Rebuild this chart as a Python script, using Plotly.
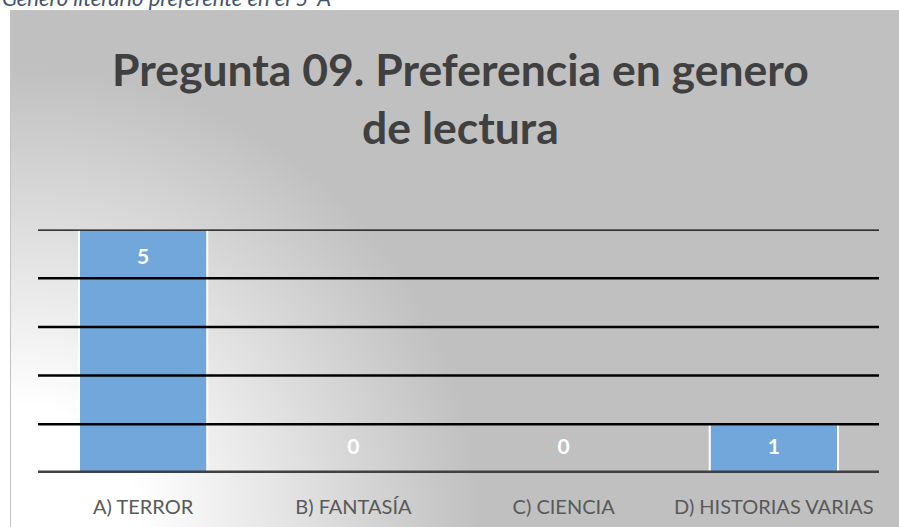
import base64
import math
import struct
import zlib

import plotly.graph_objects as go

# ---------------- data ----------------
CATEGORIES = ["A) TERROR", "B) FANTASÍA", "C) CIENCIA", "D) HISTORIAS VARIAS"]
VALUES = [5, 0, 0, 1]
Y_TICKS = [1, 2, 3, 4, 5]
TITLE_LINES = ["Pregunta 09. Preferencia en genero", "de lectura"]
CAPTION = "Genero literario preferente en el 5°A"

# ---------------- layout constants ----------------
W, H = 899, 527
FRAME_X0, FRAME_Y0 = 10, 10          # chart frame top-left (px)
PLOT_X0, PLOT_X1 = 38, 879           # plot area (px)
PLOT_Y_TOP, PLOT_Y_BOT = 229.5, 473  # plot area (px)
FONT = "Lato"
BAR_COLOR = "#71A7DB"


def gradient_png(scale=2):
    """Radial light-to-grey background of the chart frame (decoration)."""
    fw, fh = W - FRAME_X0, H - FRAME_Y0
    w, h = math.ceil(fw / scale), math.ceil(fh / scale)
    raw = bytearray()
    for j in range(h):
        raw.append(0)
        py = FRAME_Y0 + (j + 0.5) * scale
        for i in range(w):
            px = FRAME_X0 + (i + 0.5) * scale
            d = math.hypot(px - 20, py - 527)
            t = min(max((d - 120) / 340.0, 0.0), 1.0)
            raw.append(int(round(255 - 63 * t)))

    def chunk(tag, data):
        c = struct.pack(">I", len(data)) + tag + data
        return c + struct.pack(">I", zlib.crc32(tag + data) & 0xFFFFFFFF)

    png = (b"\x89PNG\r\n\x1a\n"
           + chunk(b"IHDR", struct.pack(">IIBBBBB", w, h, 8, 0, 0, 0, 0))
           + chunk(b"IDAT", zlib.compress(bytes(raw), 9))
           + chunk(b"IEND", b""))
    return "data:image/png;base64," + base64.b64encode(png).decode()


def px_x(p):
    return p / W


def px_y(p):
    return 1 - p / H


fig = go.Figure()

fig.add_trace(go.Bar(
    x=CATEGORIES,
    y=VALUES,
    marker=dict(color=BAR_COLOR, line=dict(color="white", width=2)),
    hoverinfo="x+y",
    showlegend=False,
))

label_y = [max(v - 0.6, 0.49) for v in VALUES]
fig.add_trace(go.Scatter(
    x=CATEGORIES,
    y=label_y,
    text=[str(v) for v in VALUES],
    mode="text",
    textposition="middle center",
    textfont=dict(family=FONT, size=21, color="white", weight="bold"),
    hoverinfo="skip",
    showlegend=False,
))

shapes = []
for t in Y_TICKS:
    shapes.append(dict(type="line", xref="x domain", x0=0, x1=1, yref="y", y0=t, y1=t,
                       line=dict(color="black", width=2.5), layer="above"))
shapes.append(dict(type="line", xref="x domain", x0=0, x1=1, yref="y", y0=0, y1=0,
                   line=dict(color="#404040", width=5), layer="above"))
shapes.append(dict(type="rect", xref="paper", yref="paper",
                   x0=px_x(FRAME_X0 + 0.5), x1=px_x(W + 5),
                   y0=px_y(H + 5), y1=px_y(FRAME_Y0 + 0.5),
                   line=dict(color="#c4c4c4", width=1), layer="below"))

annotations = [
    dict(text="<br>".join(TITLE_LINES), xref="paper", yref="paper",
         x=px_x(460), y=px_y(97), xanchor="center", yanchor="middle",
         showarrow=False, align="center",
         font=dict(family=FONT, size=44.5, color="#404040", weight="bold")),
    dict(text="<i>" + CAPTION + "</i>", xref="paper", yref="paper",
         x=0, y=px_y(-3), xanchor="left", yanchor="middle",
         showarrow=False, align="left",
         font=dict(family=FONT, size=22, color="#44546A")),
]

fig.update_layout(
    width=W, height=H,
    margin=dict(l=0, r=0, t=0, b=0),
    paper_bgcolor="white",
    plot_bgcolor="rgba(0,0,0,0)",
    bargap=0.39,
    shapes=shapes,
    annotations=annotations,
    images=[dict(source=gradient_png(), xref="paper", yref="paper",
                 x=px_x(FRAME_X0), y=px_y(FRAME_Y0),
                 sizex=(W - FRAME_X0) / W, sizey=(H - FRAME_Y0) / H,
                 xanchor="left", yanchor="top", sizing="stretch", layer="below")],
    xaxis=dict(domain=[px_x(PLOT_X0), px_x(PLOT_X1)],
               showgrid=False, zeroline=False, showline=False,
               ticks="outside", ticklen=16, tickcolor="rgba(0,0,0,0)",
               tickfont=dict(family=FONT, size=20, color="#595959"),
               fixedrange=True),
    yaxis=dict(domain=[px_y(PLOT_Y_BOT), px_y(PLOT_Y_TOP)], range=[0, 5],
               tickvals=Y_TICKS, showgrid=False, zeroline=False, showline=False,
               showticklabels=False, fixedrange=True),
    showlegend=False,
)

fig.write_html(
    "out.html",
    config={"displayModeBar": False},
    post_script="document.body.style.margin='0';document.body.style.overflow='hidden';",
)
